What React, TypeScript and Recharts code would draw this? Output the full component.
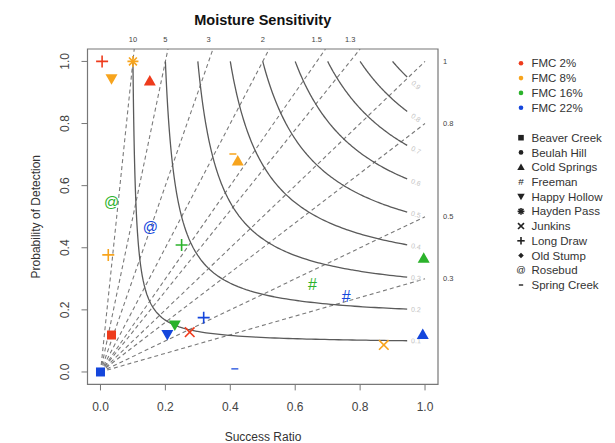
import React from 'react';
import { ScatterChart, Scatter, XAxis, YAxis, ReferenceArea } from 'recharts';

// ---- Data ----
const FMC_LEVELS = ['FMC 2%', 'FMC 8%', 'FMC 16%', 'FMC 22%'];
const FMC_COLORS = ['#EE3B1C', '#F7A41D', '#2BB22B', '#1446DC'];
const SITES = ['Beaver Creek', 'Beulah Hill', 'Cold Springs', 'Freeman', 'Happy Hollow', 'Hayden Pass', 'Junkins', 'Long Draw', 'Old Stump', 'Rosebud', 'Spring Creek'];

const fmc2 = [
  { site: 'Long Draw', sr: 0.005, pod: 1.0 },
  { site: 'Cold Springs', sr: 0.152, pod: 0.937 },
  { site: 'Beaver Creek', sr: 0.034, pod: 0.119 },
  { site: 'Junkins', sr: 0.275, pod: 0.128 },
];
const fmc8 = [
  { site: 'Hayden Pass', sr: 0.1, pod: 1.0 },
  { site: 'Happy Hollow', sr: 0.034, pod: 0.944 },
  { site: 'Spring Creek', sr: 0.408, pod: 0.702 },
  { site: 'Cold Springs', sr: 0.423, pod: 0.679 },
  { site: 'Long Draw', sr: 0.024, pod: 0.377 },
  { site: 'Junkins', sr: 0.873, pod: 0.087 },
];
const fmc16 = [
  { site: 'Rosebud', sr: 0.034, pod: 0.548 },
  { site: 'Long Draw', sr: 0.25, pod: 0.409 },
  { site: 'Happy Hollow', sr: 0.229, pod: 0.151 },
  { site: 'Freeman', sr: 0.653, pod: 0.283 },
  { site: 'Cold Springs', sr: 0.996, pod: 0.366 },
];
const fmc22 = [
  { site: 'Beaver Creek', sr: 0.0, pod: 0.0 },
  { site: 'Rosebud', sr: 0.154, pod: 0.466 },
  { site: 'Happy Hollow', sr: 0.206, pod: 0.121 },
  { site: 'Long Draw', sr: 0.318, pod: 0.175 },
  { site: 'Spring Creek', sr: 0.414, pod: 0.01 },
  { site: 'Freeman', sr: 0.757, pod: 0.243 },
  { site: 'Cold Springs', sr: 0.993, pod: 0.121 },
];
const FMC_DATA = [fmc2, fmc8, fmc16, fmc22];

const CSI_LEVELS = [0.1, 0.2, 0.3, 0.4, 0.5, 0.6, 0.7, 0.8, 0.9];
const BIAS_LEVELS = [10, 5, 3, 2, 1.5, 1.3, 1, 0.8, 0.5, 0.3];
const TOP_BIAS_LABELS = [10, 5, 3, 2, 1.5, 1.3];
const RIGHT_BIAS_LABELS = [1, 0.8, 0.5, 0.3];
const AXIS_TICKS = [0, 0.2, 0.4, 0.6, 0.8, 1.0];
const DOMAIN: [number, number] = [-0.04, 1.04];

// ---- Diagram geometry (performance-diagram definitions) ----
const CSI_SR_END = 0.945;
const CSI_LABEL_SR = 0.972;
const podAt = (c: number, sr: number) => 1 / (1 / c + 1 - 1 / sr);

function csiCurve(c: number) {
  const pts: { sr: number; pod: number }[] = [];
  const n = 60;
  for (let i = 0; i <= n; i++) {
    const sr = c + ((CSI_SR_END - c) * i) / n;
    pts.push({ sr, pod: podAt(c, sr) });
  }
  const podEnd = podAt(c, CSI_SR_END);
  for (let i = 1; i < n; i++) {
    const pod = 1 - ((1 - podEnd) * i) / n;
    const sr = 1 / (1 / c - 1 / pod + 1);
    if (sr > c && sr < CSI_SR_END) pts.push({ sr, pod });
  }
  pts.sort((a, b) => a.sr - b.sr);
  return pts;
}

function biasLine(b: number) {
  const end = b > 1 ? { sr: DOMAIN[1] / b, pod: DOMAIN[1] } : { sr: 1, pod: b };
  return [{ sr: 0, pod: 0 }, end];
}

const csiLabels = CSI_LEVELS.map((c) => ({ c, sr: CSI_LABEL_SR, pod: podAt(c, CSI_LABEL_SR) }));

// ---- Markers ----
function Marker({ cx, cy, site, color, s = 1 }: any) {
  switch (site) {
    case 'Beaver Creek':
      return <rect x={cx - 4.5 * s} y={cy - 4.5 * s} width={9 * s} height={9 * s} fill={color} />;
    case 'Beulah Hill':
      return <circle cx={cx} cy={cy} r={3.8 * s} fill={color} />;
    case 'Cold Springs':
      return <polygon points={`${cx},${cy - 6 * s} ${cx + 6 * s},${cy + 4.5 * s} ${cx - 6 * s},${cy + 4.5 * s}`} fill={color} />;
    case 'Happy Hollow':
      return <polygon points={`${cx},${cy + 6 * s} ${cx + 6 * s},${cy - 4.5 * s} ${cx - 6 * s},${cy - 4.5 * s}`} fill={color} />;
    case 'Freeman':
      return <text x={cx} y={cy} dy="0.36em" textAnchor="middle" fontSize={16 * s} fontFamily="Liberation Sans, Arial, sans-serif" fill={color}>#</text>;
    case 'Rosebud':
      return <text x={cx} y={cy} dy="0.32em" textAnchor="middle" fontSize={15 * s} fontFamily="Liberation Sans, Arial, sans-serif" fill={color}>@</text>;
    case 'Hayden Pass': {
      const r = 5.5 * s;
      const d = r * 0.72;
      return (
        <g stroke={color} strokeWidth={1.6}>
          <line x1={cx - r} y1={cy} x2={cx + r} y2={cy} />
          <line x1={cx} y1={cy - r} x2={cx} y2={cy + r} />
          <line x1={cx - d} y1={cy - d} x2={cx + d} y2={cy + d} />
          <line x1={cx - d} y1={cy + d} x2={cx + d} y2={cy - d} />
        </g>
      );
    }
    case 'Junkins': {
      const d = 4.8 * s;
      return (
        <g stroke={color} strokeWidth={1.6}>
          <line x1={cx - d} y1={cy - d} x2={cx + d} y2={cy + d} />
          <line x1={cx - d} y1={cy + d} x2={cx + d} y2={cy - d} />
        </g>
      );
    }
    case 'Long Draw': {
      const r = 6 * s;
      return (
        <g stroke={color} strokeWidth={1.6}>
          <line x1={cx - r} y1={cy} x2={cx + r} y2={cy} />
          <line x1={cx} y1={cy - r} x2={cx} y2={cy + r} />
        </g>
      );
    }
    case 'Old Stump': {
      const r = 4.5 * s;
      return <polygon points={`${cx},${cy - r} ${cx + r},${cy} ${cx},${cy + r} ${cx - r},${cy}`} fill={color} />;
    }
    case 'Spring Creek':
      return <line x1={cx - 3.5 * s} y1={cy} x2={cx + 3.5 * s} y2={cy} stroke={color} strokeWidth={1.4} />;
    default:
      return <g />;
  }
}

const Empty = () => <g />;

const YTick = ({ x, y, payload }: any) => (
  <text x={x} y={y} transform={`rotate(-90 ${x} ${y})`} textAnchor="middle" fontSize={12} fill="#444" fontFamily="Liberation Sans, Arial, sans-serif">
    {payload.value.toFixed(1)}
  </text>
);

const CsiLabel = ({ cx, cy, payload }: any) => {
  const { sr, pod } = payload;
  const ang = (Math.atan(0.955 * (pod * pod) / (sr * sr)) * 180) / Math.PI;
  return (
    <text x={cx} y={cy} dy="0.35em" textAnchor="middle" fontSize={7} fill="#c4c4c4" transform={`rotate(${ang} ${cx} ${cy})`} fontFamily="Liberation Sans, Arial, sans-serif">
      {payload.c.toFixed(1)}
    </text>
  );
};

const FONT = 'Liberation Sans, Arial, Helvetica, sans-serif';

export default function App() {
  return (
    <div style={{ position: 'absolute', left: 0, top: 0, width: 615, height: 443, background: '#fff' }}>
      <ScatterChart width={615} height={443} margin={{ top: 29, right: 147, bottom: 28.6, left: 47.5 }}>
        <XAxis
          type="number"
          dataKey="sr"
          domain={DOMAIN}
          allowDataOverflow
          ticks={AXIS_TICKS}
          tickFormatter={(v: number) => v.toFixed(1)}
          axisLine={false}
          tickLine={{ stroke: '#777' }}
          tickSize={6}
          tickMargin={12}
          height={30}
          tick={{ fontSize: 12, fill: '#444', fontFamily: FONT }}
          interval={0}
        />
        <XAxis
          xAxisId="top"
          orientation="top"
          type="number"
          dataKey="sr"
          domain={DOMAIN}
          allowDataOverflow
          ticks={TOP_BIAS_LABELS.map((b) => 1 / b)}
          tickFormatter={(v: number) => String(Math.round((1 / v) * 10) / 10)}
          axisLine={false}
          tickLine={false}
          tickSize={0}
          tickMargin={7.5}
          height={20}
          tick={{ fontSize: 7.5, fill: '#444', fontFamily: FONT }}
          interval={0}
        />
        <YAxis
          type="number"
          dataKey="pod"
          domain={DOMAIN}
          allowDataOverflow
          ticks={AXIS_TICKS}
          axisLine={false}
          tickLine={{ stroke: '#777' }}
          tickSize={6}
          tickMargin={12.5}
          width={40}
          tick={<YTick />}
          interval={0}
        />
        <YAxis
          yAxisId="right"
          orientation="right"
          type="number"
          dataKey="pod"
          domain={DOMAIN}
          allowDataOverflow
          ticks={RIGHT_BIAS_LABELS}
          tickFormatter={(v: number) => String(v)}
          axisLine={false}
          tickLine={false}
          tickSize={0}
          tickMargin={5}
          width={30}
          tick={{ fontSize: 7.5, fill: '#444', fontFamily: FONT }}
          interval={0}
        />
        <ReferenceArea x1={DOMAIN[0]} x2={DOMAIN[1]} y1={DOMAIN[0]} y2={DOMAIN[1]} fill="none" fillOpacity={0} stroke="#777" strokeWidth={1.2} />
        {BIAS_LEVELS.map((b) => (
          <Scatter
            key={'bias' + b}
            data={biasLine(b)}
            line={{ stroke: '#7a7a7a', strokeWidth: 1.1, strokeDasharray: '4 3' }}
            shape={Empty}
            isAnimationActive={false}
            legendType="none"
          />
        ))}
        {CSI_LEVELS.map((c) => (
          <Scatter
            key={'csi' + c}
            data={csiCurve(c)}
            line={{ stroke: '#5a5a5a', strokeWidth: 1.3 }}
            shape={Empty}
            isAnimationActive={false}
            legendType="none"
          />
        ))}
        <Scatter data={csiLabels} shape={CsiLabel} isAnimationActive={false} legendType="none" />
        {FMC_DATA.map((series, i) => (
          <Scatter
            key={FMC_LEVELS[i]}
            name={FMC_LEVELS[i]}
            data={series}
            isAnimationActive={false}
            shape={(p: any) => <Marker cx={p.cx} cy={p.cy} site={p.payload.site} color={FMC_COLORS[i]} />}
          />
        ))}
      </ScatterChart>
      <svg width={615} height={443} style={{ position: 'absolute', left: 0, top: 0, pointerEvents: 'none' }} fontFamily={FONT}>
        <text x={262.75} y={24.5} textAnchor="middle" fontWeight="bold" fontSize={14.5} fill="#111">Moisture Sensitivity</text>
        <text x={263} y={440.5} textAnchor="middle" fontSize={12} fill="#333">Success Ratio</text>
        <text x={40} y={216.7} transform="rotate(-90 40 216.7)" textAnchor="middle" fontSize={12} fill="#333">Probability of Detection</text>
        {FMC_LEVELS.map((lbl, i) => (
          <g key={lbl}>
            <circle cx={521} cy={63.3 + i * 14.8} r={2.3} fill={FMC_COLORS[i]} />
            <text x={531.5} y={63.3 + i * 14.8} dy="0.36em" fontSize={11.5} fill="#333">{lbl}</text>
          </g>
        ))}
        {SITES.map((site, i) => (
          <g key={site}>
            <Marker cx={521} cy={137.7 + i * 14.73} site={site} color="#222" s={0.62} />
            <text x={531.5} y={137.7 + i * 14.73} dy="0.36em" fontSize={11.5} fill="#333">{site}</text>
          </g>
        ))}
      </svg>
    </div>
  );
}
